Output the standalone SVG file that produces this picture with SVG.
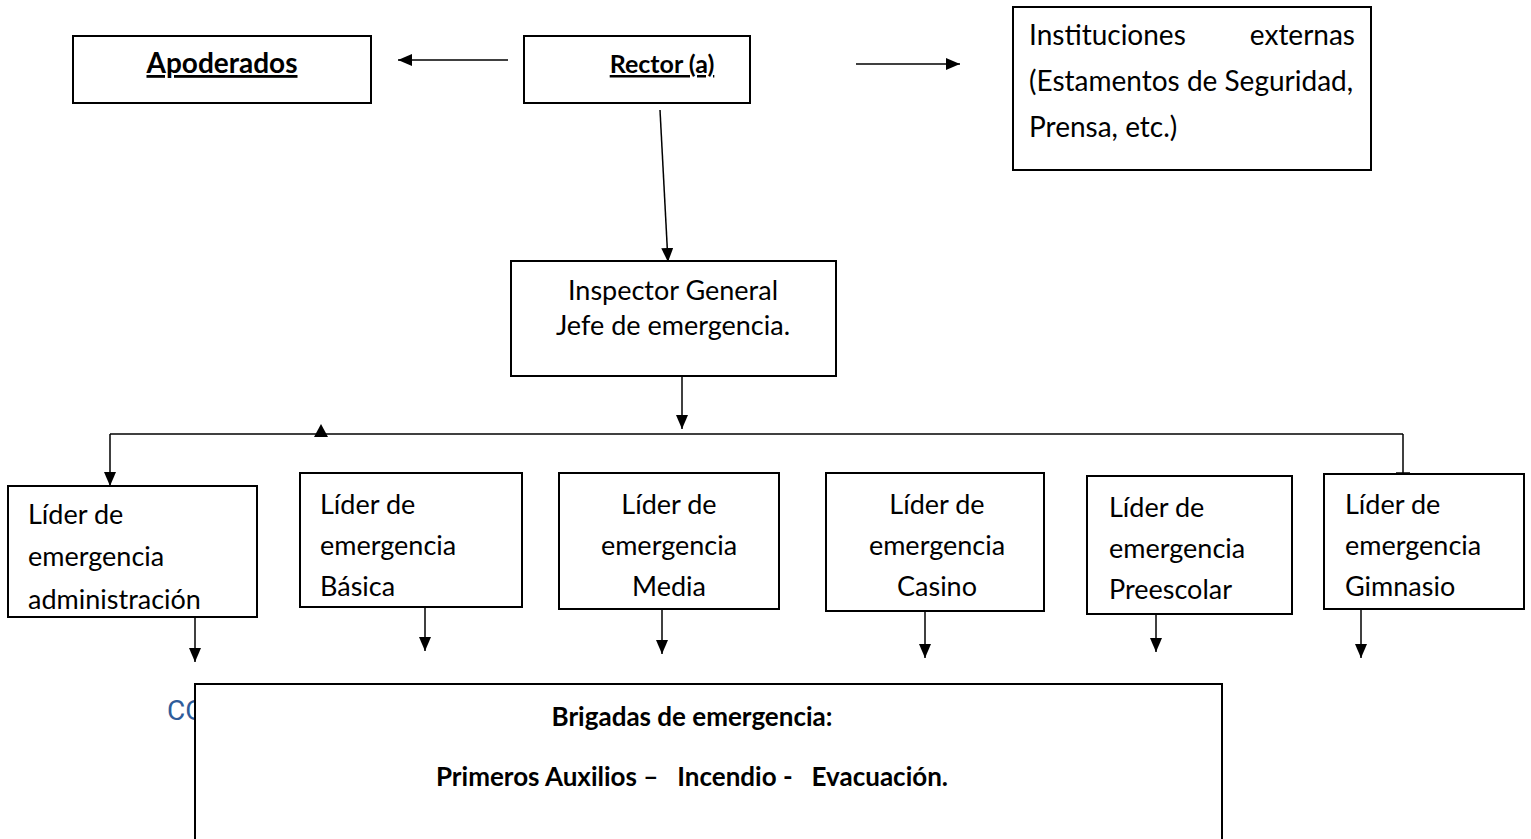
<svg xmlns="http://www.w3.org/2000/svg" width="1531" height="839" viewBox="0 0 1531 839">
<style>
.box{fill:#fff;stroke:#000;stroke-width:2}
.t{font-family:Lato,"Liberation Sans",sans-serif;font-size:27px;fill:#000}
.i{font-family:Lato,"Liberation Sans",sans-serif;font-size:28px;fill:#000}
.b{font-family:Lato,"Liberation Sans",sans-serif;font-size:26px;font-weight:bold;fill:#000}
.c{fill:none;stroke:#000;stroke-width:1.5}
.mid{text-anchor:middle}
</style>
<defs>
<marker id="ah" markerWidth="14" markerHeight="12" refX="14" refY="6" orient="auto" markerUnits="userSpaceOnUse">
<path d="M0,0 L14,6 L0,12 Z" fill="#000"/>
</marker>
</defs>
<rect width="1531" height="839" fill="#fff"/>

<g id="co-text">
<text x="167" y="720" style="font-family:Roboto,'Liberation Sans',sans-serif;font-size:28px;fill:#2E5C9A">CO</text>
</g>

<g id="connectors">
<line class="c" x1="508" y1="60" x2="398" y2="60" marker-end="url(#ah)"/>
<line class="c" x1="856" y1="64" x2="960" y2="64" marker-end="url(#ah)"/>
<line class="c" x1="660" y1="110" x2="668" y2="262" marker-end="url(#ah)"/>
<line class="c" x1="682" y1="370" x2="682" y2="429" marker-end="url(#ah)"/>
<line class="c" x1="110" y1="434" x2="1403" y2="434"/>
<path d="M314,437 L321,424 L328,437 Z" fill="#000"/>
<line class="c" x1="110" y1="434" x2="110" y2="486" marker-end="url(#ah)"/>
<line class="c" x1="1403" y1="434" x2="1403" y2="475"/>
<line class="c" x1="1396" y1="473" x2="1410" y2="473"/>
<line class="c" x1="195" y1="617" x2="195" y2="662" marker-end="url(#ah)"/>
<line class="c" x1="425" y1="607" x2="425" y2="651" marker-end="url(#ah)"/>
<line class="c" x1="662" y1="609" x2="662" y2="654" marker-end="url(#ah)"/>
<line class="c" x1="925" y1="611" x2="925" y2="658" marker-end="url(#ah)"/>
<line class="c" x1="1156" y1="614" x2="1156" y2="652" marker-end="url(#ah)"/>
<line class="c" x1="1361" y1="609" x2="1361" y2="658" marker-end="url(#ah)"/>
</g>

<g id="apoderados">
<rect class="box" x="73" y="36" width="298" height="67"/>
<text class="b mid" x="222" y="73" style="font-size:28px" text-decoration="underline">Apoderados</text>
</g>

<g id="rector">
<rect class="box" x="524" y="36" width="226" height="67"/>
<text class="b mid" x="662" y="73" style="font-size:25px" text-decoration="underline">Rector (a)</text>
</g>

<g id="instituciones">
<rect class="box" x="1013" y="7" width="358" height="163"/>
<text class="i" x="1029" y="45">Instituciones</text>
<text class="i" x="1355" y="45" style="text-anchor:end">externas</text>
<text class="i" x="1029" y="91">(Estamentos de Seguridad,</text>
<text class="i" x="1029" y="137">Prensa, etc.)</text>
</g>

<g id="inspector">
<rect class="box" x="511" y="261" width="325" height="115"/>
<text class="t mid" x="673" y="300">Inspector General</text>
<text class="t mid" x="673" y="335">Jefe de emergencia.</text>
</g>

<g id="lider-admin">
<rect class="box" x="8" y="486" width="249" height="131"/>
<text class="t" x="28" y="524">Líder de</text>
<text class="t" x="28" y="566">emergencia</text>
<text class="t" x="28" y="609">administración</text>
</g>

<g id="lider-basica">
<rect class="box" x="300" y="473" width="222" height="134"/>
<text class="t" x="320" y="514">Líder de</text>
<text class="t" x="320" y="555">emergencia</text>
<text class="t" x="320" y="596">Básica</text>
</g>

<g id="lider-media">
<rect class="box" x="559" y="473" width="220" height="136"/>
<text class="t mid" x="669" y="514">Líder de</text>
<text class="t mid" x="669" y="555">emergencia</text>
<text class="t mid" x="669" y="596">Media</text>
</g>

<g id="lider-casino">
<rect class="box" x="826" y="473" width="218" height="138"/>
<text class="t mid" x="937" y="514">Líder de</text>
<text class="t mid" x="937" y="555">emergencia</text>
<text class="t mid" x="937" y="596">Casino</text>
</g>

<g id="lider-preescolar">
<rect class="box" x="1087" y="476" width="205" height="138"/>
<text class="t" x="1109" y="517">Líder de</text>
<text class="t" x="1109" y="558">emergencia</text>
<text class="t" x="1109" y="599">Preescolar</text>
</g>

<g id="lider-gimnasio">
<rect class="box" x="1324" y="474" width="200" height="135"/>
<text class="t" x="1345" y="514">Líder de</text>
<text class="t" x="1345" y="555">emergencia</text>
<text class="t" x="1345" y="596">Gimnasio</text>
</g>

<g id="brigadas">
<rect class="box" x="195" y="684" width="1027" height="170"/>
<text class="b mid" x="692" y="726">Brigadas de emergencia:</text>
<text class="b mid" x="692" y="786" xml:space="preserve">Primeros Auxilios –   Incendio -   Evacuación.</text>
</g>
</svg>
